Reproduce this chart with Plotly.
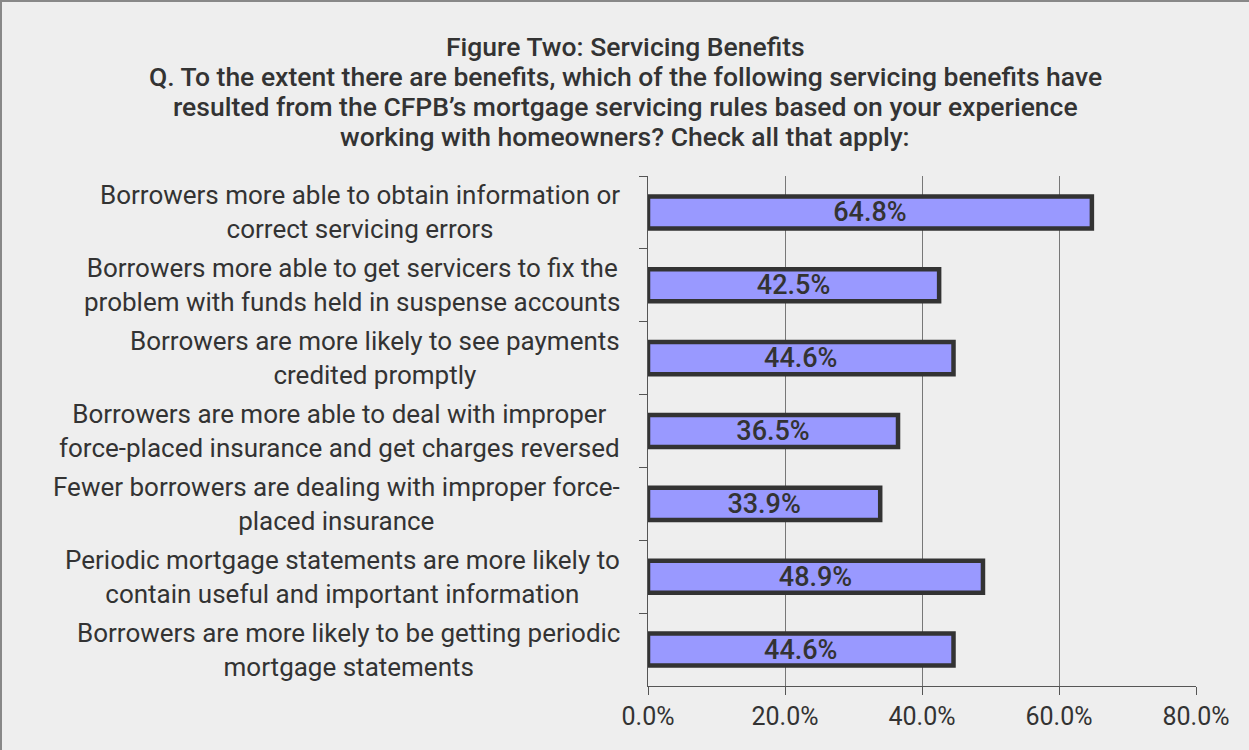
import plotly.graph_objects as go

# Survey responses: share of respondents reporting each servicing benefit
categories = [
    "Borrowers more able to obtain information or<br>correct servicing errors",
    "Borrowers more able to get servicers to fix the<br>problem with funds held in suspense accounts",
    "Borrowers are more likely to see payments<br>credited promptly",
    "Borrowers are more able to deal with improper<br>force-placed insurance and get charges reversed",
    "Fewer borrowers are dealing with improper force-<br>placed insurance",
    "Periodic mortgage statements are more likely to<br>contain useful and important information",
    "Borrowers are more likely to be getting periodic<br>mortgage statements",
]
values = [64.8, 42.5, 44.6, 36.5, 33.9, 48.9, 44.6]
x_ticks = [0, 20, 40, 60, 80]
x_tick_labels = ["0.0%", "20.0%", "40.0%", "60.0%", "80.0%"]

title_lines = [
    "Figure Two: Servicing Benefits",
    "Q. To the extent there are benefits, which of the following servicing benefits have",
    "resulted from the CFPB\u2019s mortgage servicing rules based on your experience",
    "working with homeowners? Check all that apply:",
]

TEXT = "#333333"
SANS = "Roboto, Liberation Sans, Arial, sans-serif"

# plot-area geometry in pixels, used to place the title and category labels
W, H = 1249, 750
L, R, T, B = 648, 53, 176, 64
PW, PH = W - L - R, H - T - B

fig = go.Figure(
    go.Bar(
        x=values,
        y=categories,
        orientation="h",
        width=0.44,
        marker=dict(color="#9999ff", line=dict(color="#333333", width=4.5)),
        text=[f"{v:.1f}%" for v in values],
        textposition="inside",
        insidetextanchor="middle",
        textangle=0,
        constraintext="none",
        textfont=dict(family=SANS, size=27, color=TEXT, weight=500),
        hoverinfo="skip",
    )
)

# centred title block
for i, line in enumerate(title_lines):
    fig.add_annotation(
        text=line,
        xref="paper", yref="paper",
        x=(625 - L) / PW,
        y=1 + (T - (46 + 30 * i)) / PH,
        xanchor="center", yanchor="middle",
        showarrow=False,
        font=dict(family=SANS, size=26.5, color=TEXT, weight=500),
    )

# category labels: block flush right, wrapped lines centred within it
for cat in categories:
    fig.add_annotation(
        text=cat,
        xref="paper", yref="y",
        x=(622 - L) / PW, y=cat,
        xanchor="right", yanchor="middle",
        align="center",
        showarrow=False,
        font=dict(family=SANS, size=26, color=TEXT),
    )

# thin frame along the top and left edges
fig.add_shape(type="rect", xref="paper", yref="paper",
              x0=(1 - L) / PW, y0=-1, x1=2, y1=1 + (T - 1) / PH,
              line=dict(color="#888888", width=2), layer="below")

fig.update_layout(
    width=W,
    height=H,
    margin=dict(l=L, r=R, t=T, b=B),
    paper_bgcolor="#eeeeee",
    plot_bgcolor="#eeeeee",
    showlegend=False,
    bargap=0.56,
    font=dict(family=SANS, color=TEXT),
    xaxis=dict(
        range=[0, 80],
        tickvals=x_ticks,
        ticktext=x_tick_labels,
        tickfont=dict(family=SANS, size=25, color=TEXT),
        showgrid=True,
        gridcolor="#777777",
        gridwidth=1,
        zeroline=False,
        showline=True,
        linecolor="#555555",
        linewidth=1,
        ticks="outside",
        ticklen=8,
        tickcolor="#555555",
        fixedrange=True,
    ),
    yaxis=dict(
        autorange="reversed",
        showticklabels=False,
        showgrid=False,
        showline=True,
        linecolor="#555555",
        linewidth=1,
        ticks="outside",
        tickson="boundaries",
        ticklen=8,
        tickcolor="#555555",
        fixedrange=True,
    ),
)

fig.write_html("out.html")
